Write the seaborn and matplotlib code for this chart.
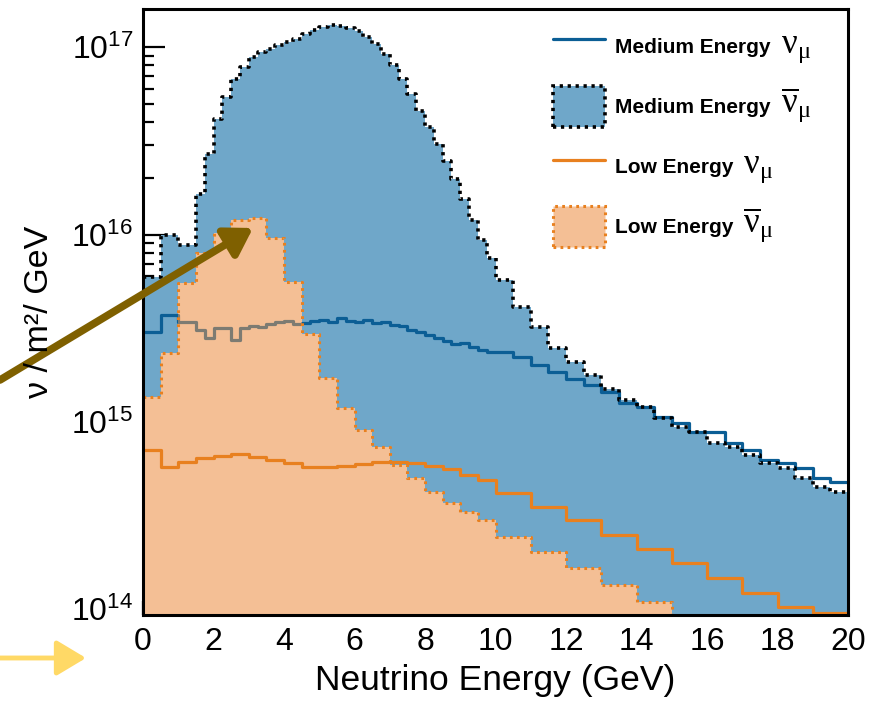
import numpy as np
import pandas as pd
import matplotlib
matplotlib.use("Agg")
import matplotlib.pyplot as plt
import seaborn as sns
from matplotlib.ticker import MultipleLocator, LogLocator, NullFormatter
from matplotlib.patches import Patch
from matplotlib.lines import Line2D

# ---------------- data ----------------
# Medium Energy anti-nu_mu (filled)
me_antinu_edges = [0.0, 0.5, 1.0] + list(np.arange(1.5, 10.0, 0.25)) + list(np.arange(10.0, 20.01, 0.5))
me_antinu_vals = [
    5.96e15, 1.00e16, 8.84e15,
    1.64e16, 2.68e16, 4.12e16, 5.40e16, 6.74e16, 7.82e16, 8.84e16, 9.40e16,
    9.76e16, 1.025e17, 1.063e17, 1.104e17, 1.174e17, 1.233e17, 1.279e17, 1.311e17,
    1.295e17, 1.264e17, 1.218e17, 1.131e17, 1.038e17, 9.18e16, 8.01e16, 6.74e16,
    5.61e16, 4.55e16, 3.73e16, 3.03e16, 2.46e16, 1.97e16, 1.54e16, 1.20e16,
    9.40e15, 7.53e15,
    5.74e15, 4.12e15, 3.22e15, 2.49e15, 2.09e15, 1.78e15, 1.50e15, 1.31e15,
    1.20e15, 1.05e15, 9.40e14, 8.84e14, 7.72e14, 7.35e14, 6.66e14, 6.04e14,
    5.68e14, 5.02e14, 4.49e14, 4.22e14,
]
# Medium Energy nu_mu (line)
me_nu_edges = [0.0, 0.5] + list(np.arange(1.0, 10.0, 0.25)) + list(np.arange(10.0, 20.01, 0.5))
me_nu_vals = [
    3.03e15, 3.73e15,
    3.43e15, 3.43e15, 3.10e15, 2.81e15, 3.18e15, 3.18e15, 2.74e15, 3.18e15,
    3.26e15, 3.22e15, 3.34e15, 3.43e15, 3.47e15, 3.34e15, 3.38e15, 3.47e15,
    3.51e15, 3.43e15, 3.60e15, 3.47e15, 3.43e15, 3.51e15, 3.38e15, 3.43e15,
    3.30e15, 3.26e15, 3.10e15, 3.03e15, 2.92e15, 2.81e15, 2.71e15, 2.61e15,
    2.65e15, 2.52e15, 2.43e15, 2.37e15,
    2.37e15, 2.23e15, 2.02e15, 1.85e15, 1.70e15, 1.58e15, 1.45e15, 1.26e15,
    1.20e15, 1.063e15, 9.88e14, 8.84e14, 8.84e14, 7.72e14, 7.08e14, 6.26e14,
    6.04e14, 5.68e14, 5.02e14, 4.78e14,
]
# Low Energy binning
le_edges = list(np.arange(0.0, 10.0, 0.5)) + list(np.arange(10.0, 20.01, 1.0))
le_nu_vals = [
    7.08e14, 5.74e14, 6.11e14, 6.42e14, 6.58e14, 6.74e14, 6.50e14, 6.26e14,
    6.04e14, 5.74e14, 5.74e14, 5.82e14, 5.96e14, 6.11e14, 6.11e14, 6.04e14,
    5.82e14, 5.61e14, 5.21e14, 4.90e14,
    4.17e14, 3.51e14, 2.99e14, 2.49e14, 2.09e14, 1.76e14, 1.465e14, 1.218e14,
    1.025e14, 9.52e13,
]
le_antinu_vals = [
    1.36e15, 2.34e15, 5.54e15, 8.01e15, 1.025e16, 1.20e16, 1.23e16, 9.64e15,
    5.61e15, 2.96e15, 1.72e15, 1.19e15, 9.06e14, 7.35e14, 5.89e14, 5.02e14,
    4.22e14, 3.69e14, 3.30e14, 2.99e14,
    2.43e14, 2.02e14, 1.66e14, 1.34e14, 1.09e14, 8.5e13, 8.5e13, 8.5e13,
    8.5e13, 8.5e13,
]
x_ticks = [0, 2, 4, 6, 8, 10, 12, 14, 16, 18, 20]
legend_labels = ["Medium Energy", "Medium Energy", "Low Energy", "Low Energy"]
legend_symbols = [r"$\mathrm{\nu}_{\mathrm{\mu}}$", r"$\overline{\mathrm{\nu}}_{\mathrm{\mu}}$",
                  r"$\mathrm{\nu}_{\mathrm{\mu}}$", r"$\overline{\mathrm{\nu}}_{\mathrm{\mu}}$"]


def frame(edges, vals):
    e = np.asarray(edges, dtype=float)
    return pd.DataFrame({"E": (e[:-1] + e[1:]) / 2, "w": np.asarray(vals, dtype=float)})


me_antinu = frame(me_antinu_edges, me_antinu_vals)
me_nu = frame(me_nu_edges, me_nu_vals)
le_nu = frame(le_edges, le_nu_vals)
le_antinu = frame(le_edges, le_antinu_vals)
me_antinu_bins = [float(v) for v in me_antinu_edges]
me_nu_bins = [float(v) for v in me_nu_edges]
le_bins = [float(v) for v in le_edges]

# ---------------- style ----------------
sns.set_theme(style="ticks")
plt.rcParams["font.family"] = ["Liberation Sans", "DejaVu Sans"]
plt.rcParams["mathtext.fontset"] = "custom"
plt.rcParams["mathtext.rm"] = "Liberation Serif"
plt.rcParams["mathtext.it"] = "Liberation Serif:italic"
plt.rcParams["mathtext.bf"] = "Liberation Serif:bold"
plt.rcParams["text.color"] = "black"
plt.rcParams["axes.labelcolor"] = "black"

ME_FILL = "#6fa7c9"
ME_LINE = "#0b5e95"
LE_FILL = "#f4bf95"
LE_LINE = "#e8801f"
DOT_ME = (0, (0.9, 1.3))
DOT_LE = (0, (0.9, 1.4))

fig = plt.figure(figsize=(8.81, 7.02), dpi=100)
ax = fig.add_axes([143 / 881, 1 - 615 / 702, (848 - 143) / 881, (615 - 9) / 702])
ax.set_yscale("log")

# ME anti-nu fill
sns.histplot(data=me_antinu, x="E", weights="w", bins=me_antinu_bins,
             element="step", fill=True, color=ME_FILL, alpha=1.0, linewidth=0,
             ax=ax, zorder=1.0)
# ME nu line (blue)
sns.histplot(data=me_nu, x="E", weights="w", bins=me_nu_bins,
             element="step", fill=False, color=ME_LINE, linewidth=2.3, ax=ax, zorder=1.5)
# ME anti-nu dotted outline
sns.histplot(data=me_antinu, x="E", weights="w", bins=me_antinu_bins,
             element="step", fill=False, color="black", linewidth=2.6,
             linestyle=DOT_ME, ax=ax, zorder=1.6)
# LE anti-nu fill
sns.histplot(data=le_antinu, x="E", weights="w", bins=le_bins,
             element="step", fill=True, color=LE_FILL, alpha=1.0, linewidth=0,
             ax=ax, zorder=2.0)
le_poly = ax.collections[-1]
# ME nu seen through the LE fill (greyish)
sns.histplot(data=me_nu, x="E", weights="w", bins=me_nu_bins,
             element="step", fill=False, color="#7d7b72", linewidth=2.3, ax=ax, zorder=2.1)
grey_line = ax.lines[-1]
grey_line.set_clip_path(le_poly.get_paths()[0], le_poly.get_transform())
# LE anti-nu dotted outline
sns.histplot(data=le_antinu, x="E", weights="w", bins=le_bins,
             element="step", fill=False, color=LE_LINE, linewidth=2.2,
             linestyle=DOT_LE, ax=ax, zorder=2.2)
# LE nu line
sns.histplot(data=le_nu, x="E", weights="w", bins=le_bins,
             element="step", fill=False, color=LE_LINE, linewidth=2.3, ax=ax, zorder=2.4)

ax.set_xlim(0, 20)
ax.set_ylim(9.3e13, 1.6e17)
ax.set_xticks(x_ticks)
ax.set_xticklabels([str(v) for v in x_ticks])
ax.xaxis.set_minor_locator(MultipleLocator(0.5))
ax.yaxis.set_major_locator(LogLocator(base=10))
ax.yaxis.set_minor_locator(LogLocator(base=10, subs=np.arange(2, 10)))
ax.yaxis.set_minor_formatter(NullFormatter())

for s in ax.spines.values():
    s.set_linewidth(2.2)
    s.set_color("black")
    s.set_visible(True)
ax.tick_params(axis="both", which="both", direction="in", colors="black",
               top=False, right=False, width=1.6)
ax.tick_params(axis="y", which="major", length=16, pad=7, labelsize=23)
ax.tick_params(axis="y", which="minor", length=8)
ax.tick_params(axis="x", which="major", length=10, pad=9, labelsize=23)
ax.tick_params(axis="x", which="minor", length=5)
ax.set_ylabel("")
ax.set_xlabel("Neutrino Energy (GeV)", fontsize=25.5, labelpad=5, color="black")
fig.text(40 / 881, 1 - 312 / 702, "ν / m²/ GeV", rotation=90, ha="center", va="center",
         fontsize=24.5, color="black")

# legend
handles = [
    Line2D([], [], color=ME_LINE, lw=2.3),
    Patch(facecolor=ME_FILL, edgecolor="black", linestyle=DOT_ME, linewidth=2.6),
    Line2D([], [], color=LE_LINE, lw=2.3),
    Patch(facecolor=LE_FILL, edgecolor=LE_LINE, linestyle=DOT_LE, linewidth=2.2),
]
leg = fig.legend(handles, legend_labels, loc="upper left",
                 bbox_to_anchor=(553 / 881, 1 - 26 / 702), frameon=False,
                 prop=dict(weight="bold", size=15), handlelength=2.5, handleheight=2.66,
                 labelspacing=0.91, handletextpad=0.48, borderpad=0, borderaxespad=0)
for t in leg.get_texts():
    t.set_color("black")
fig.canvas.draw()
for t, sym in zip(leg.get_texts(), legend_symbols):
    bb = t.get_window_extent()
    fig.text(bb.x1 + 10, bb.y0 + 0.21 * 15 * 100 / 72, sym, transform=None,
             ha="left", va="baseline", fontsize=25, color="black")

# annotation arrows outside the plot
ax.annotate("", xy=(253, 702 - 228), xytext=(0, 702 - 380), xycoords="figure pixels",
            textcoords="figure pixels", annotation_clip=False,
            arrowprops=dict(arrowstyle="-|>,head_length=0.8,head_width=0.5", lw=5.5,
                            color="#7f6000", mutation_scale=20, shrinkA=0, shrinkB=0),
            zorder=10)
ax.annotate("", xy=(86, 702 - 658), xytext=(0, 702 - 658), xycoords="figure pixels",
            textcoords="figure pixels", annotation_clip=False,
            arrowprops=dict(arrowstyle="-|>,head_length=1.0,head_width=0.6", lw=3.5,
                            color="#ffd966", mutation_scale=18, shrinkA=0, shrinkB=0),
            zorder=10)

fig.savefig("out.png", dpi=100)
